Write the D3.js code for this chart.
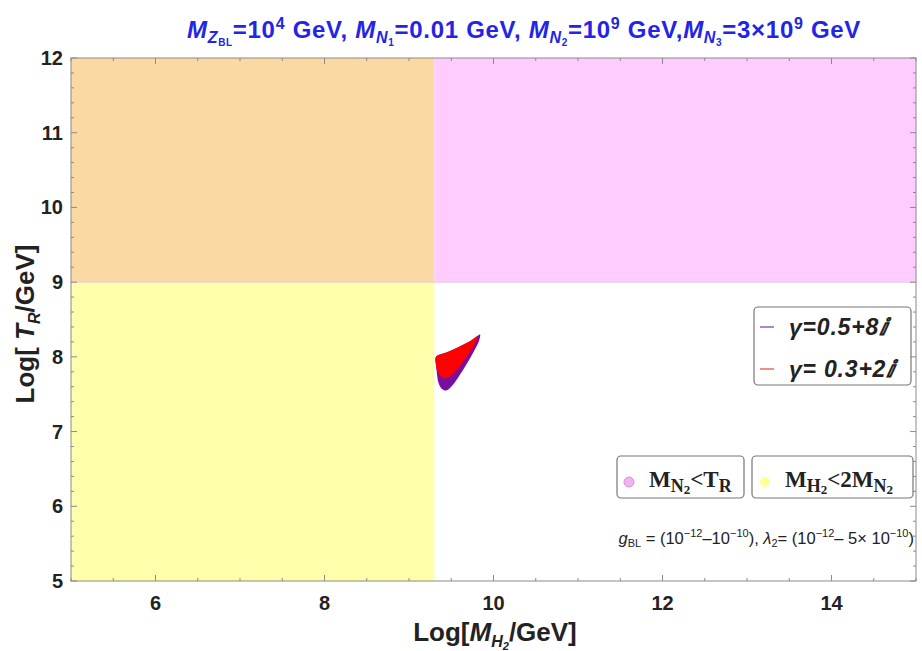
<!DOCTYPE html>
<html>
<head>
<meta charset="utf-8">
<script src="https://cdn.jsdelivr.net/npm/d3@7"></script>
<style>
  html, body { margin: 0; padding: 0; background: #fff; }
  svg { display: block; }
</style>
</head>
<body>
<svg id="chart" width="922" height="651"></svg>
<script>
// Axis ranges and ticks
const xDomain = [5, 15];
const yDomain = [5, 12];
const xTickValues = [6, 8, 10, 12, 14];
const yTickValues = [5, 6, 7, 8, 9, 10, 11, 12];

// Excluded-region boundaries: log10(2 M_N2) and log10(M_N2)
const massBoundary = 9.3;
const tempBoundary = 9;

// Allowed parameter regions (Log[M_H2/GeV], Log[T_R/GeV])
const purpleRegion = [
  [9.32, 8.00], [9.45, 8.06], [9.60, 8.14], [9.74, 8.22], [9.84, 8.30],
  [9.83, 8.22], [9.77, 8.08], [9.68, 7.90], [9.58, 7.72], [9.50, 7.60],
  [9.44, 7.55], [9.39, 7.57], [9.35, 7.65], [9.33, 7.78], [9.32, 7.90]
];
const redRegion = [
  [9.32, 8.00], [9.45, 8.06], [9.60, 8.14], [9.72, 8.21], [9.81, 8.27],
  [9.77, 8.16], [9.70, 8.03], [9.62, 7.90], [9.54, 7.79], [9.46, 7.72],
  [9.40, 7.72], [9.35, 7.78], [9.32, 7.88]
];

const couplingLegend = ["γ=0.5+8ⅈ", "γ= 0.3+2ⅈ"];

const svg = d3.select("#chart");
const x = d3.scaleLinear().domain(xDomain).range([71, 916]);
const y = d3.scaleLinear().domain(yDomain).range([581, 58]);

const colors = {
  orange: "#fbd9a3",
  pink: "#ffccff",
  yellow: "#ffffab",
  purple: "#7a0f9c",
  red: "#ff0000",
  frame: "#8a8a8a",
  title: "#2424e6"
};

// Shaded regions
const regions = [
  { x0: xDomain[0], x1: massBoundary, y0: tempBoundary, y1: yDomain[1], fill: colors.orange },
  { x0: massBoundary, x1: xDomain[1], y0: tempBoundary, y1: yDomain[1], fill: colors.pink },
  { x0: xDomain[0], x1: massBoundary, y0: yDomain[0], y1: tempBoundary, fill: colors.yellow }
];
svg.append("g").selectAll("rect").data(regions).join("rect")
  .attr("x", d => x(d.x0))
  .attr("y", d => y(d.y1))
  .attr("width", d => x(d.x1) - x(d.x0))
  .attr("height", d => y(d.y0) - y(d.y1))
  .attr("fill", d => d.fill);

// Boundary line between the upper and lower regions
svg.append("line")
  .attr("x1", x(xDomain[0])).attr("x2", x(xDomain[1]))
  .attr("y1", y(tempBoundary)).attr("y2", y(tempBoundary))
  .attr("stroke", "#e8c8d8").attr("stroke-width", 1);

const line = d3.line().x(d => x(d[0])).y(d => y(d[1])).curve(d3.curveCatmullRomClosed.alpha(0.5));
svg.append("path").attr("d", line(purpleRegion)).attr("fill", colors.purple);
svg.append("path").attr("d", line(redRegion)).attr("fill", colors.red);

// Frame with ticks on all four sides
const frame = svg.append("g");
frame.append("rect")
  .attr("x", x(xDomain[0])).attr("y", y(yDomain[1]))
  .attr("width", x(xDomain[1]) - x(xDomain[0]))
  .attr("height", y(yDomain[0]) - y(yDomain[1]))
  .attr("fill", "none").attr("stroke", colors.frame).attr("stroke-width", 1);

const xMinor = d3.range(xDomain[0], xDomain[1] + 0.001, 0.5).filter(v => !xTickValues.includes(v));
const yMinor = d3.range(yDomain[0], yDomain[1] + 0.001, 0.2).filter(v => Math.abs(v - Math.round(v)) > 0.01);

function xTicksAt(values, len) {
  values.forEach(v => {
    frame.append("line").attr("x1", x(v)).attr("x2", x(v))
      .attr("y1", y(yDomain[0])).attr("y2", y(yDomain[0]) - len)
      .attr("stroke", colors.frame);
    frame.append("line").attr("x1", x(v)).attr("x2", x(v))
      .attr("y1", y(yDomain[1])).attr("y2", y(yDomain[1]) + len)
      .attr("stroke", colors.frame);
  });
}
function yTicksAt(values, len) {
  values.forEach(v => {
    frame.append("line").attr("y1", y(v)).attr("y2", y(v))
      .attr("x1", x(xDomain[0])).attr("x2", x(xDomain[0]) + len)
      .attr("stroke", colors.frame);
    frame.append("line").attr("y1", y(v)).attr("y2", y(v))
      .attr("x1", x(xDomain[1])).attr("x2", x(xDomain[1]) - len)
      .attr("stroke", colors.frame);
  });
}
xTicksAt(xTickValues, 6);
xTicksAt(xMinor, 3);
yTicksAt(yTickValues, 6);
yTicksAt(yMinor, 3);

// Tick labels
svg.append("g").selectAll("text").data(xTickValues).join("text")
  .attr("x", d => x(d)).attr("y", 610)
  .attr("text-anchor", "middle")
  .attr("font-family", "Liberation Sans, Arial, sans-serif")
  .attr("font-weight", "bold").attr("font-size", 20)
  .attr("fill", "#222")
  .text(d => d);
svg.append("g").selectAll("text").data(yTickValues).join("text")
  .attr("x", 63).attr("y", d => y(d) + 7)
  .attr("text-anchor", "end")
  .attr("font-family", "Liberation Sans, Arial, sans-serif")
  .attr("font-weight", "bold").attr("font-size", 20)
  .attr("fill", "#222")
  .text(d => d);

// Axis titles
const xt = svg.append("text")
  .attr("x", 495).attr("y", 641)
  .attr("text-anchor", "middle")
  .attr("font-family", "Liberation Sans, Arial, sans-serif")
  .attr("font-weight", "bold").attr("font-size", 26).attr("fill", "#222");
xt.append("tspan").text("Log[");
xt.append("tspan").attr("font-style", "italic").text("M");
xt.append("tspan").attr("font-style", "italic").attr("font-size", 16).attr("dy", 6).text("H");
xt.append("tspan").attr("font-style", "italic").attr("font-size", 11).attr("dy", 3).text("2");
xt.append("tspan").attr("dy", -9).text("/GeV]");

const yt = svg.append("text")
  .attr("transform", "translate(34,324) rotate(-90)")
  .attr("text-anchor", "middle")
  .attr("font-family", "Liberation Sans, Arial, sans-serif")
  .attr("font-weight", "bold").attr("font-size", 26).attr("fill", "#222");
yt.append("tspan").text("Log[");
yt.append("tspan").attr("font-style", "italic").text(" T");
yt.append("tspan").attr("font-style", "italic").attr("font-size", 16).attr("dy", 6).text("R");
yt.append("tspan").attr("dy", -6).text("/GeV]");

// Title
const title = svg.append("text")
  .attr("x", 524).attr("y", 38)
  .attr("text-anchor", "middle")
  .attr("font-family", "Liberation Sans, Arial, sans-serif")
  .attr("font-weight", "bold").attr("font-size", 24)
  .attr("letter-spacing", 0.7).attr("fill", colors.title);
function tsp(t, opts) {
  const s = title.append("tspan").text(t);
  if (opts) Object.entries(opts).forEach(([k, v]) => s.attr(k, v));
  return s;
}
tsp("M", { "font-style": "italic" });
tsp("Z", { "font-style": "italic", "font-size": 16, dy: 5 });
tsp("BL", { "font-size": 10, dy: 3 });
tsp("=10", { dy: -8 });
tsp("4", { "font-size": 16, dy: -9 });
tsp(" GeV, ", { dy: 9 });
tsp("M", { "font-style": "italic" });
tsp("N", { "font-style": "italic", "font-size": 16, dy: 5 });
tsp("1", { "font-size": 10, dy: 3 });
tsp("=0.01 GeV, ", { dy: -8 });
tsp("M", { "font-style": "italic" });
tsp("N", { "font-style": "italic", "font-size": 16, dy: 5 });
tsp("2", { "font-size": 10, dy: 3 });
tsp("=10", { dy: -8 });
tsp("9", { "font-size": 16, dy: -9 });
tsp(" GeV,", { dy: 9 });
tsp("M", { "font-style": "italic" });
tsp("N", { "font-style": "italic", "font-size": 16, dy: 5 });
tsp("3", { "font-size": 10, dy: 3 });
tsp("=3×10", { dy: -8 });
tsp("9", { "font-size": 16, dy: -9 });
tsp(" GeV", { dy: 9 });

// Legend for the coupling choices
const lg = svg.append("g");
lg.append("rect").attr("x", 754).attr("y", 307).attr("width", 157).attr("height", 78)
  .attr("rx", 4).attr("fill", "#fff").attr("stroke", "#777").attr("stroke-width", 1.2);
const legendColors = ["#9060b0", "#e86a6a"];
couplingLegend.forEach((label, i) => {
  const cy = 327 + i * 42;
  lg.append("line").attr("x1", 760).attr("x2", 774).attr("y1", cy).attr("y2", cy)
    .attr("stroke", legendColors[i]).attr("stroke-width", 1.5);
  lg.append("text").attr("x", 789).attr("y", cy + 8)
    .attr("font-family", "Liberation Sans, Arial, sans-serif")
    .attr("font-weight", "bold").attr("font-style", "italic").attr("font-size", 23)
    .attr("letter-spacing", 0.8)
    .attr("fill", "#222").text(label);
});

// Legend for the excluded regions
const rl = svg.append("g");
rl.append("rect").attr("x", 617).attr("y", 456).attr("width", 127).attr("height", 42)
  .attr("rx", 4).attr("fill", "#fff").attr("stroke", "#777").attr("stroke-width", 1.2);
rl.append("rect").attr("x", 752).attr("y", 456).attr("width", 161).attr("height", 42)
  .attr("rx", 4).attr("fill", "#fff").attr("stroke", "#777").attr("stroke-width", 1.2);
rl.append("circle").attr("cx", 629).attr("cy", 482).attr("r", 5)
  .attr("fill", "#f4b0f0").attr("stroke", "#d890d8").attr("stroke-width", 1);
rl.append("circle").attr("cx", 765).attr("cy", 482).attr("r", 5)
  .attr("fill", "#ffff99");
const t1 = rl.append("text").attr("x", 649).attr("y", 487)
  .attr("font-family", "Liberation Serif, Times New Roman, serif")
  .attr("font-weight", "bold").attr("font-size", 23).attr("fill", "#222");
t1.append("tspan").text("M");
t1.append("tspan").attr("font-size", 18).attr("dy", 5).text("N");
t1.append("tspan").attr("font-size", 13).attr("dy", 2).text("2");
t1.append("tspan").attr("dy", -7).text("<T");
t1.append("tspan").attr("font-size", 18).attr("dy", 5).text("R");
const t2 = rl.append("text").attr("x", 785).attr("y", 487)
  .attr("font-family", "Liberation Serif, Times New Roman, serif")
  .attr("font-weight", "bold").attr("font-size", 23).attr("fill", "#222");
t2.append("tspan").text("M");
t2.append("tspan").attr("font-size", 18).attr("dy", 5).text("H");
t2.append("tspan").attr("font-size", 13).attr("dy", 2).text("2");
t2.append("tspan").attr("dy", -7).text("<2M");
t2.append("tspan").attr("font-size", 18).attr("dy", 5).text("N");
t2.append("tspan").attr("font-size", 13).attr("dy", 2).text("2");

// Parameter ranges note
const note = svg.append("text").attr("x", 914).attr("y", 544)
  .attr("text-anchor", "end")
  .attr("font-family", "Liberation Sans, Arial, sans-serif")
  .attr("font-size", 16.5).attr("fill", "#222");
note.append("tspan").attr("font-style", "italic").text("g");
note.append("tspan").attr("font-size", 11).attr("dy", 3).text("BL");
note.append("tspan").attr("dy", -3).text(" = (10");
note.append("tspan").attr("font-size", 11).attr("dy", -7).text("−12");
note.append("tspan").attr("dy", 7).text("–10");
note.append("tspan").attr("font-size", 11).attr("dy", -7).text("−10");
note.append("tspan").attr("dy", 7).text("), ");
note.append("tspan").attr("font-style", "italic").text("λ");
note.append("tspan").attr("font-size", 11).attr("dy", 3).text("2");
note.append("tspan").attr("dy", -3).text("= (10");
note.append("tspan").attr("font-size", 11).attr("dy", -7).text("−12");
note.append("tspan").attr("dy", 7).text("– 5× 10");
note.append("tspan").attr("font-size", 11).attr("dy", -7).text("−10");
note.append("tspan").attr("dy", 7).text(")");
</script>
</body>
</html>
